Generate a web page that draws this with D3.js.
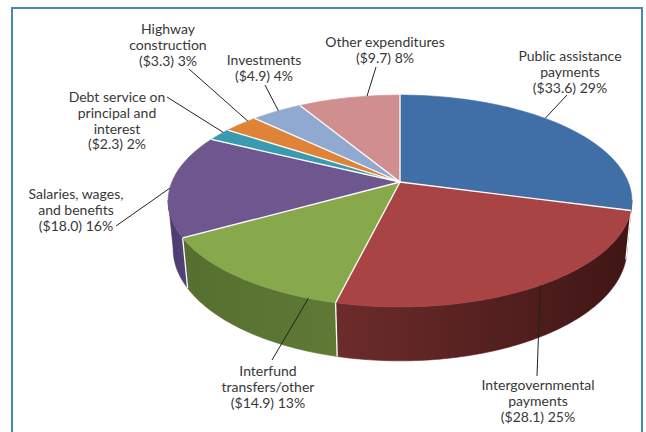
<!DOCTYPE html>
<html>
<head>
<meta charset="utf-8">
<script src="https://cdn.jsdelivr.net/npm/d3@7"></script>
<style>
  body { margin: 0; background: #fff; }
  .lbl { font-family: Lato, "Open Sans", sans-serif; font-size: 14px; fill: #383838; }
  .leader { stroke: #222; stroke-width: 1; fill: none; }
</style>
</head>
<body>
<div id="chart"></div>
<script>
const width = 646;
const height = 432;

// Data
const categories = [
    "Public assistance payments",
    "Intergovernmental payments",
    "Interfund transfers/other",
    "Salaries, wages, and benefits",
    "Debt service on principal and interest",
    "Highway construction",
    "Investments",
    "Other expenditures"
];
const values = [33.6, 28.1, 14.9, 18.0, 2.3, 3.3, 4.9, 9.7];
const percents = [29, 25, 13, 16, 2, 3, 4, 8];
const labelLines = [
    ["Public assistance", "payments"],
    ["Intergovernmental", "payments"],
    ["Interfund", "transfers/other"],
    ["Salaries, wages,", "and benefits"],
    ["Debt service on", "principal and", "interest"],
    ["Highway", "construction"],
    ["Investments"],
    ["Other expenditures"]
];

const topColors = ["#3f6fa6", "#a84443", "#87a84b", "#6e578f", "#3a9ab0", "#de8337", "#8fa9d1", "#d18e8e"];
const sideLeft = ["#2f5583", "#6c2c2b", "#566f30", "#4a3a68", "#2b7485", "#a8612a", "#6c82a4", "#9f6a6a"];
const sideRight = ["#2a4b75", "#3f1615", "#5e7a35", "#54437a", "#2b7485", "#a8612a", "#6c82a4", "#9f6a6a"];

// label layout: center of first line, leader end near label, leader angle on the pie rim (deg)
const labelPos = [[570, 56], [538, 385], [268, 371], [76, 194], [117, 97], [168, 29], [264, 60], [385, 42]];
const leaderOuter = [[567, 95], [537, 376], [272, 360], [116, 226], [167, 97], [189, 69], [265, 85], [376, 67]];
const leaderAngle = [45.7, 148.6, 199.5, 266.6, 302, 311.7, 322.5, 350.2];
const lineStep = 15.8;

// projection of the tilted pie (perspective)
const CX = 400, CY = 182;
const G = 1273, K = 5.58;
const phi = 26.7 * Math.PI / 180;
const S = Math.sin(phi), C = Math.cos(phi), T = Math.tan(phi);
const H = 0.236; // thickness

function proj(theta, r, z) {
    const x = r * Math.sin(theta), y = r * Math.cos(theta);
    const den = K + y - z * T;
    return [CX + G * x / den, CY - G * (y * S + z * C) / den];
}

function arcPoints(a0, a1, z) {
    const n = Math.max(2, Math.ceil(Math.abs(a1 - a0) / (Math.PI / 180)));
    const pts = [];
    for (let i = 0; i <= n; i++) pts.push(proj(a0 + (a1 - a0) * i / n, 1, z));
    return pts;
}

const pie = d3.pie().sort(null).value(d => d).startAngle(0).endAngle(2 * Math.PI);
const arcs = pie(values);

const svg = d3.select("#chart")
    .append("svg")
    .attr("width", width)
    .attr("height", height);

const defs = svg.append("defs");

// frame
svg.append("rect")
    .attr("x", 12).attr("y", 8)
    .attr("width", 630).attr("height", 460)
    .attr("fill", "none")
    .attr("stroke", "#4689b4")
    .attr("stroke-width", 2);

// visible side range
const vis0 = Math.acos(-1 / K);
const vis1 = 2 * Math.PI - vis0;
const line = d3.line();

const sides = svg.append("g").attr("id", "sides");
arcs.forEach((d, i) => {
    const a0 = Math.max(d.startAngle, vis0 - 0.01);
    const a1 = Math.min(d.endAngle, vis1 + 0.01);
    if (a1 <= a0) return;
    const topPts = arcPoints(a0, a1, 0);
    const botPts = arcPoints(a1, a0, -H);
    const xs = topPts.concat(botPts).map(p => p[0]);
    const gid = "side" + i;
    const grad = defs.append("linearGradient")
        .attr("id", gid)
        .attr("gradientUnits", "userSpaceOnUse")
        .attr("x1", d3.min(xs)).attr("x2", d3.max(xs))
        .attr("y1", 0).attr("y2", 0);
    grad.append("stop").attr("offset", 0).attr("stop-color", sideLeft[i]);
    grad.append("stop").attr("offset", 1).attr("stop-color", sideRight[i]);
    sides.append("path")
        .attr("d", line(topPts.concat(botPts)) + "Z")
        .attr("fill", `url(#${gid})`)
        .attr("stroke", `url(#${gid})`)
        .attr("stroke-width", 0.6);
});

// white seams on the side
arcs.forEach(d => {
    const a = d.startAngle;
    if (a > vis0 && a < vis1) {
        const p = proj(a, 1, 0), q = proj(a, 1, -H);
        sides.append("line")
            .attr("x1", p[0]).attr("y1", p[1])
            .attr("x2", q[0]).attr("y2", q[1])
            .attr("stroke", "#fff").attr("stroke-width", 1.3);
    }
});

// top faces
const tops = svg.append("g").attr("id", "tops");
const apex = proj(0, 0, 0);
arcs.forEach((d, i) => {
    const pts = [apex].concat(arcPoints(d.startAngle, d.endAngle, 0));
    tops.append("path")
        .attr("d", line(pts) + "Z")
        .attr("fill", topColors[i])
        .attr("stroke", topColors[i])
        .attr("stroke-width", 0.6);
});
arcs.forEach(d => {
    const p = proj(d.startAngle, 1, 0);
    tops.append("line")
        .attr("x1", apex[0]).attr("y1", apex[1])
        .attr("x2", p[0]).attr("y2", p[1])
        .attr("stroke", "#fff").attr("stroke-width", 1.3);
});

// leaders
const leaders = svg.append("g").attr("id", "leaders");
arcs.forEach((d, i) => {
    const p = proj(leaderAngle[i] * Math.PI / 180, 1, 0);
    leaders.append("line")
        .attr("class", "leader")
        .attr("x1", leaderOuter[i][0]).attr("y1", leaderOuter[i][1])
        .attr("x2", p[0]).attr("y2", p[1]);
});

// labels
const labels = svg.append("g").attr("id", "labels");
categories.forEach((c, i) => {
    const lines = labelLines[i].concat([`($${values[i].toFixed(1)}) ${percents[i]}%`]);
    const t = labels.append("text")
        .attr("class", "lbl")
        .attr("text-anchor", "middle");
    lines.forEach((l, j) => {
        t.append("tspan")
            .attr("x", labelPos[i][0])
            .attr("y", labelPos[i][1] + j * lineStep)
            .attr("dy", "0.35em")
            .text(l);
    });
});
</script>
</body>
</html>
